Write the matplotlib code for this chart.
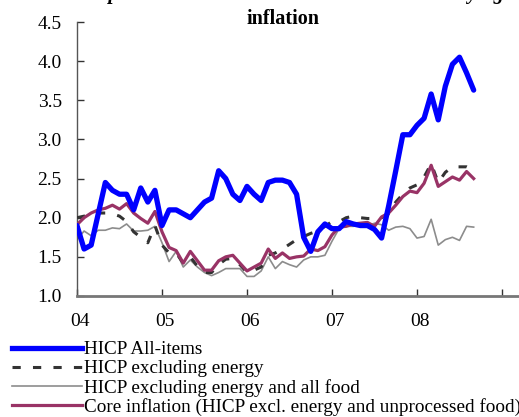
import numpy as np
import matplotlib.pyplot as plt
from matplotlib.lines import Line2D
from matplotlib.transforms import ScaledTranslation

plt.rcParams['font.family'] = ['Liberation Serif', 'DejaVu Serif']

# monthly, Jan 2004 .. Sep 2008
hicp_all = [1.9, 1.6, 1.65, 2.05, 2.45, 2.35, 2.3, 2.3, 2.1, 2.38, 2.2, 2.35,
            1.9, 2.1, 2.1, 2.05, 2.0, 2.1, 2.2, 2.25, 2.6, 2.5, 2.3, 2.22,
            2.4, 2.3, 2.22, 2.45, 2.48, 2.48, 2.45, 2.3, 1.75, 1.57, 1.82, 1.92,
            1.86, 1.86, 1.95, 1.92, 1.9, 1.9, 1.85, 1.74, 2.15, 2.6, 3.06, 3.06,
            3.18, 3.27, 3.58, 3.25, 3.68, 3.96, 4.05, 3.85, 3.63]
hicp_ex_energy = [2.0, 2.02, 2.04, 2.06, 2.06, 2.05, 2.02, 1.95, 1.82, 1.75, 1.68, 1.9,
                  1.65, 1.55, 1.55, 1.42, 1.5, 1.38, 1.3, 1.3, 1.4, 1.47, 1.48, 1.4,
                  1.3, 1.33, 1.37, 1.52, 1.55, 1.6, 1.66, 1.72, 1.76, 1.8, 1.83, 1.89,
                  1.95, 1.95, 2.0, 2.02, 2.0, 1.99, 1.99, 2.0, 2.05, 2.2, 2.3, 2.38,
                  2.42, 2.52, 2.69, 2.45, 2.58, 2.65, 2.65, 2.65, 2.61]
hicp_ex_energy_food = [1.72, 1.83, 1.77, 1.84, 1.84, 1.87, 1.86, 1.92, 1.83, 1.83, 1.84, 1.89,
                       1.68, 1.44, 1.57, 1.37, 1.46, 1.37, 1.3, 1.26, 1.3, 1.35, 1.35, 1.35,
                       1.25, 1.25, 1.32, 1.5, 1.35, 1.44, 1.4, 1.37, 1.46, 1.5, 1.5, 1.52,
                       1.7, 1.86, 1.89, 1.89, 1.91, 1.89, 1.93, 1.91, 1.84, 1.88, 1.89, 1.86,
                       1.74, 1.76, 1.98, 1.65, 1.72, 1.75, 1.71, 1.89, 1.88]
core = [1.91, 2.0, 2.06, 2.1, 2.12, 2.16, 2.11, 2.18, 2.06, 1.99, 1.93, 2.08,
        1.82, 1.62, 1.58, 1.42, 1.57, 1.45, 1.33, 1.33, 1.45, 1.5, 1.52, 1.42,
        1.32, 1.37, 1.42, 1.6, 1.48, 1.55, 1.48, 1.5, 1.51, 1.6, 1.58, 1.63,
        1.78, 1.88, 1.89, 1.92, 1.93, 1.94, 1.89, 2.01, 2.06, 2.16, 2.27, 2.34,
        2.32, 2.44, 2.67, 2.4, 2.46, 2.52, 2.48, 2.59, 2.5]

year_labels = ['04', '05', '06', '07', '08', '']
y_ticks = [1.0, 1.5, 2.0, 2.5, 3.0, 3.5, 4.0, 4.5]
labels = ['HICP All-items', 'HICP excluding energy',
          'HICP excluding energy and all food',
          'Core inflation (HICP excl. energy and unprocessed food)']

W, H = 519, 417
fig = plt.figure(figsize=(W / 100, H / 100), dpi=100)
ax = fig.add_axes([77 / W, (H - 296) / H, (W - 77) / W, (296 - 22) / H])

months = np.arange(len(hicp_all))
purple = '#993366'
ax.plot(months, hicp_ex_energy_food, color='#8c8c8c', lw=1.2, zorder=2)
ax.plot(months, hicp_ex_energy, color='#333333', lw=2.2, dashes=(2.7, 4), zorder=3)
ax.plot(months, core, color=purple, lw=2.3, zorder=4)
ax.plot(months, hicp_all, color='#0000ff', lw=3.8, zorder=5, solid_capstyle='round')

ax.set_xlim(0, 442 / (85 / 12))
ax.set_ylim(1.0, 4.5)
ax.set_xticks(np.arange(len(year_labels)) * 12)
ax.set_xticklabels(year_labels)
ax.set_yticks(y_ticks)
ax.set_yticklabels(['%.1f' % v for v in y_ticks])

for s in ['top', 'right']:
    ax.spines[s].set_visible(False)
ax.spines['left'].set_color('#555555')
ax.spines['left'].set_linewidth(1.0)
ax.spines['bottom'].set_color('#777777')
ax.spines['bottom'].set_linewidth(2.0)
ax.tick_params(axis='y', direction='in', length=5, width=1, color='#333333',
               labelsize=14, pad=11)
ax.tick_params(axis='x', direction='in', length=5, width=1, color='#333333',
               labelsize=14, pad=12)
shift = ScaledTranslation(3 / 100, 0, fig.dpi_scale_trans)
for lab in ax.get_xticklabels():
    lab.set_transform(lab.get_transform() + shift)

# first title line sits mostly above the crop, only its lowest pixels show
fig.text(290 / W, 1 + 1 / H, 'Graph 1: Euro area HICP headline and underlying',
         ha='center', va='baseline', fontsize=14.5, weight='bold', style='italic')
fig.text(283 / W, 1 - 19 / H, 'inflation', ha='center', va='center',
         fontsize=14.5, weight='bold')

handles = [Line2D([], [], color='#0000ff', lw=3.8),
           Line2D([], [], color='#333333', lw=2.2, dashes=(2.7, 4)),
           Line2D([], [], color='#8c8c8c', lw=1.2),
           Line2D([], [], color=purple, lw=2.3)]
fig.legend(handles, labels, loc='upper left', bbox_to_anchor=(12 / W, 1 - 341 / H),
           frameon=False, fontsize=13.8, handlelength=3.65, handletextpad=0.12,
           labelspacing=0.08, borderaxespad=0, borderpad=0)

fig.savefig('out.png', dpi=100)
